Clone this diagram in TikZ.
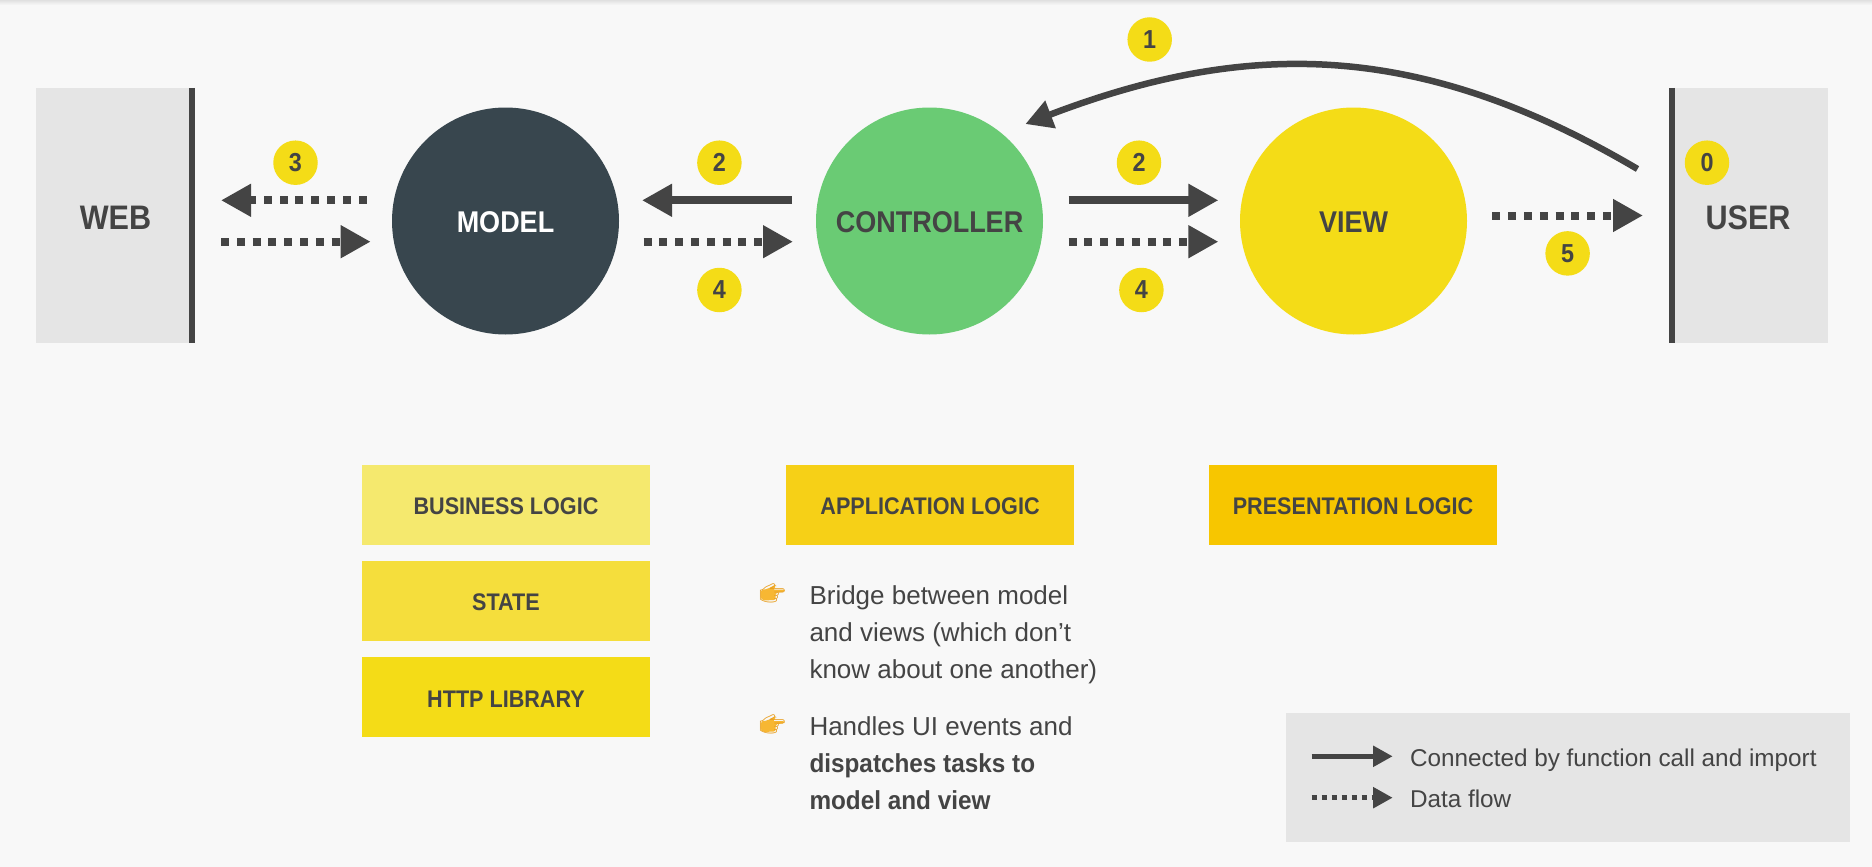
\documentclass[tikz,border=0pt]{standalone}
\usepackage{fontspec}
\setmainfont{Liberation Sans}[BoldFeatures={FakeStretch=0.9}]
\newfontfamily\notefont{Liberation Sans}[BoldFeatures={FakeStretch=0.935}]
\newfontfamily\emojifont{Noto Emoji}
\usetikzlibrary{positioning,arrows.meta}

\definecolor{pagebg}{HTML}{F8F8F8}
\definecolor{inkgrey}{HTML}{444444}
\definecolor{panelgrey}{HTML}{E5E5E5}
\definecolor{modelblue}{HTML}{38464E}
\definecolor{ctrlgreen}{HTML}{6ACB74}
\definecolor{viewyellow}{HTML}{F4DC17}
\definecolor{bizyellow}{HTML}{F5E96E}
\definecolor{stateyellow}{HTML}{F5DE3C}
\definecolor{appyellow}{HTML}{F6D017}
\definecolor{presyellow}{HTML}{F7C600}
\definecolor{handorange}{HTML}{F7B733}
\definecolor{handdark}{HTML}{E89F22}

\begin{document}
\begin{tikzpicture}[
            x=1pt, y=-1pt,
            mvcnode/.style={circle, inner sep=0pt, outer sep=0pt, minimum size=227pt, text height=23.5pt, text depth=0pt, font=\bfseries\fontsize{30}{36}\selectfont},
            endbox/.style={rectangle, fill=panelgrey, text=inkgrey, inner sep=0pt, outer sep=0pt, minimum width=159pt, minimum height=255pt, text height=28pt, text depth=0pt, font=\bfseries\fontsize{34}{41}\selectfont},
            logicbox/.style={rectangle, text=inkgrey, inner sep=0pt, outer sep=0pt, minimum width=288pt, minimum height=80pt, text height=20.2pt, text depth=0pt, font=\bfseries\fontsize{24}{29}\selectfont},
            numbadge/.style={circle, fill=viewyellow, text=inkgrey, inner sep=0pt, minimum size=44.5pt, font=\bfseries\fontsize{26}{31}\selectfont},
            notetext/.style={align=left, text=inkgrey, inner sep=0pt, outer sep=0pt, font=\notefont\fontsize{26}{37}\selectfont},
            handmark/.style={text=handdark, inner sep=0pt, font=\emojifont\fontsize{21}{24}\selectfont},
            handfill/.pic={\fill[handorange, rounded corners=2pt] (-12,-3) -- (-5,-4) -- (3,-8.5) -- (4,-6.5) -- (0,-3.5) -- (12,-3.5) -- (12,-1) -- (3,-0.5) -- (3,7) -- (-10,7.5) -- (-12,5) -- cycle;},
            legendtext/.style={anchor=west, text=inkgrey, inner sep=0pt, outer sep=0pt, text height=19.4pt, text depth=0pt, font=\fontsize{24.3}{29}\selectfont},
            endbar/.style={draw=inkgrey, line width=6.5pt},
            callline/.style={draw=inkgrey, line width=8pt, -{Triangle[length=30pt,width=31pt]}},
            flowline/.style={callline, dash pattern=on 8pt off 7.8pt},
            smallcall/.style={draw=inkgrey, line width=5pt, -{Triangle[length=19.5pt,width=20pt]}},
            smallflow/.style={smallcall, dash pattern=on 5pt off 5pt},
            ]
            %Page
            \fill[pagebg] (0,0) rectangle (1872,867);
            \shade[top color=black!12, bottom color=pagebg] (0,0) rectangle (1872,5);

            %Nodes
            \node[endbox]                     (web)    at (115.5,215.5)     {WEB};
            \node[endbox]                     (user)   at (1748,215.5)      {USER};
            \node[mvcnode, fill=modelblue, text=white]    (model)  at (505.5,221) {MODEL};
            \node[mvcnode, fill=ctrlgreen, text=inkgrey]  (ctrl)   [right=197pt of model] {CONTROLLER};
            \node[mvcnode, fill=viewyellow, text=inkgrey] (view)   [right=197pt of ctrl]  {VIEW};

            \node[logicbox, fill=bizyellow]   (biz)    at (506,504.5)       {BUSINESS LOGIC};
            \node[logicbox, fill=stateyellow] (state)  [below=16.2pt of biz]    {STATE};
            \node[logicbox, fill=viewyellow]  (http)   [below=16.2pt of state]  {HTTP LIBRARY};
            \node[logicbox, fill=appyellow]   (app)    [right=136pt of biz] {APPLICATION LOGIC};
            \node[logicbox, fill=presyellow]  (pres)   [right=135pt of app] {PRESENTATION LOGIC};

            \node[notetext, anchor=north west] (bridge)  at (809.5,585.4) {Bridge between model\\and views (which don’t\\know about one another)};
            \node[notetext, anchor=north west] (handles) at (809.5,716.4) {Handles UI events and\\\textbf{dispatches tasks to}\\\textbf{model and view}};
            \pic at (772.5,593)   {handfill};
            \pic at (772.5,724.5) {handfill};
            \node[handmark] (handa) at (772.5,593)   {👉};
            \node[handmark] (handb) at (772.5,724.5) {👉};

            \node[fill=panelgrey, inner sep=0pt, minimum width=564pt, minimum height=129pt] (legend) at (1568,777.5) {};
            \node[legendtext] (callnote) at (1410,756.3) {Connected by function call and import};
            \node[legendtext] (flownote) at (1410,797.7) {Data flow};

            \node[numbadge] (stepzero)   at (1707,162.7)   {0};
            \node[numbadge] (stepone)    at (1149.7,39.5)  {1};
            \node[numbadge] (steptwol)   at (719.4,162.7)  {2};
            \node[numbadge] (steptwor)   at (1139,162.7)   {2};
            \node[numbadge] (stepthree)  at (295.5,162.7)  {3};
            \node[numbadge] (stepfourl)  at (719.4,290)    {4};
            \node[numbadge] (stepfourr)  at (1141.4,290)   {4};
            \node[numbadge] (stepfive)   at (1567.6,253.4) {5};

            %Lines
            \draw[endbar] ([xshift=-3.25pt]web.north east) -- ([xshift=-3.25pt]web.south east);
            \draw[endbar] ([xshift=3.25pt]user.north west) -- ([xshift=3.25pt]user.south west);

            \draw[flowline] ([xshift=-25.4pt,yshift=20.7pt]model.west) -- ([xshift=26pt,yshift=15.2pt]web.east);
            \draw[flowline] ([xshift=26pt,yshift=-26.2pt]web.east) -- ([xshift=-21.3pt,yshift=-20.7pt]model.west);
            \draw[callline] ([xshift=-24pt,yshift=20.7pt]ctrl.west) -- ([xshift=23pt,yshift=20.7pt]model.east);
            \draw[flowline] ([xshift=24.6pt,yshift=-20.7pt]model.east) -- ([xshift=-23pt,yshift=-20.7pt]ctrl.west);
            \draw[callline] ([xshift=25.5pt,yshift=20.7pt]ctrl.east) -- ([xshift=-21.6pt,yshift=20.7pt]view.west);
            \draw[flowline] ([xshift=25.5pt,yshift=-20.7pt]ctrl.east) -- ([xshift=-21.6pt,yshift=-20.7pt]view.west);
            \draw[flowline] ([xshift=25.4pt,yshift=5.5pt]view.east) -- ([xshift=-25.5pt]user.west);
            \draw[draw=inkgrey, line width=6.5pt, -{Triangle[length=27pt,width=28pt]}] ([xshift=-31pt,yshift=46.5pt]user.west)
                .. controls +(-220pt,129.8pt) and +(220pt,84pt) .. ([xshift=15.6pt,yshift=16.7pt]ctrl.45);

            \draw[smallcall] ([xshift=-98.5pt]callnote.west) -- ([xshift=-17.3pt]callnote.west);
            \draw[smallflow] ([xshift=-98.5pt]flownote.west) -- ([xshift=-17.3pt]flownote.west);

        \end{tikzpicture}
\end{document}
